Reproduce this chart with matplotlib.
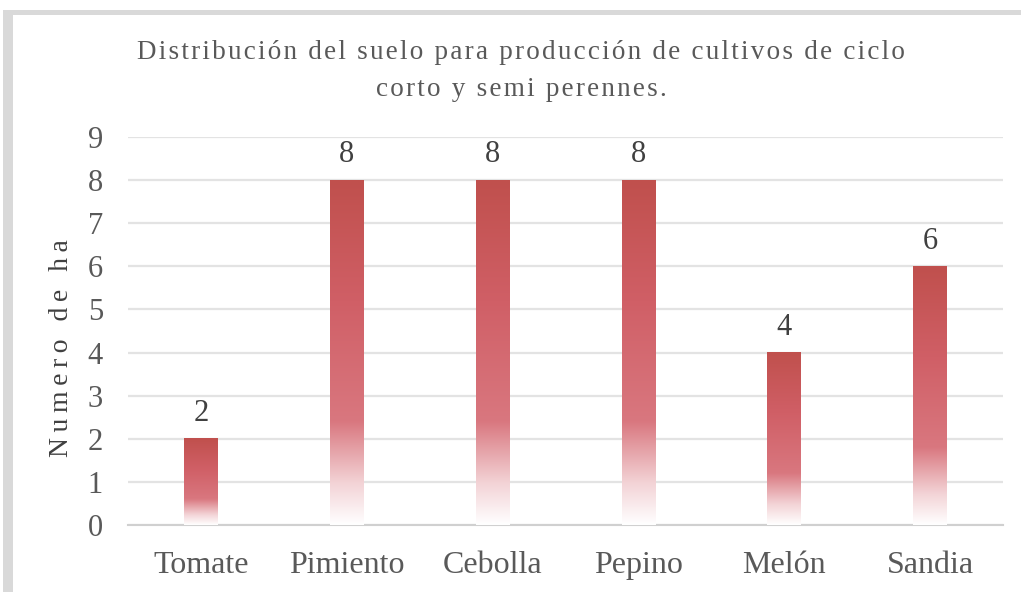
import numpy as np
import matplotlib.pyplot as plt
from matplotlib.colors import LinearSegmentedColormap
from matplotlib.patches import Rectangle

# --- Datos ---
cultivos = ["Tomate", "Pimiento", "Cebolla", "Pepino", "Melón", "Sandia"]
hectareas = [2, 8, 8, 8, 4, 6]

titulo = "Distribución del suelo para producción de cultivos de ciclo\ncorto y semi perennes."
ylabel = "Numero de ha"

plt.rcParams["font.family"] = ["Liberation Serif", "DejaVu Serif"]
gris_texto = "#595959"


def espaciar(s, sep):
    # espaciado entre letras (el original usa tracking amplio)
    return "\n".join(sep.join(linea) for linea in s.split("\n"))


W, H = 1021, 592
fig = plt.figure(figsize=(W / 100, H / 100), dpi=100)

# --- Marco gris ---
fig.patches.append(Rectangle((3 / W, 1 - 15 / H), 1, 5 / H, transform=fig.transFigure,
                             facecolor="#d9d9d9", edgecolor="none", zorder=0))
fig.patches.append(Rectangle((3 / W, 0), 10 / W, 1 - 10 / H, transform=fig.transFigure,
                             facecolor="#d9d9d9", edgecolor="none", zorder=0))

ax = fig.add_axes([128 / W, 1 - 525 / H, (1003 - 128) / W, (525 - 137) / H])

# --- Degradado de barras ---
cmap = LinearSegmentedColormap.from_list(
    "rojo", [(0.0, "#ffffff"), (0.12, "#f3d3d6"), (0.30, "#d9777f"),
             (0.65, "#d05f66"), (1.0, "#c0504d")])
grad = np.linspace(0, 1, 256).reshape(-1, 1)

x = np.arange(len(cultivos))
ancho = 0.23
bars = ax.bar(x, hectareas, width=ancho, color="none", edgecolor="none", zorder=3)
for bar, v in zip(bars, hectareas):
    x0 = bar.get_x()
    ax.imshow(grad, cmap=cmap, origin="lower", aspect="auto", zorder=3,
              extent=(x0, x0 + bar.get_width(), 0, v), interpolation="bicubic")
    ax.text(bar.get_x() + bar.get_width() / 2, v + 0.25, str(v), ha="center", va="bottom",
            fontsize=22, color="#404040")

ax.set_xlim(-0.5, len(cultivos) - 0.5)
ax.set_ylim(0, 9)
ax.set_yticks(range(0, 10))
ax.set_xticks(x)
ax.set_xticklabels(cultivos)

ax.grid(axis="y", color="#e3e3e3", linewidth=1.6, zorder=0)
ax.set_axisbelow(True)
for s in ["top", "right", "left"]:
    ax.spines[s].set_visible(False)
ax.spines["bottom"].set_color("#d0d0d0")
ax.spines["bottom"].set_linewidth(1.5)
ax.tick_params(axis="both", length=0, labelsize=22, colors=gris_texto)
ax.tick_params(axis="x", labelsize=23, pad=19)
ax.tick_params(axis="y", pad=18)

ax.set_ylabel(espaciar(ylabel, "\u2009"), fontsize=20, color="#404040")
ax.yaxis.set_label_coords(-0.062, 0.456)

fig.text(521 / W, 1 - 71 / H, espaciar(titulo, "\u200a"), ha="center", va="center",
         fontsize=19.5, color=gris_texto, linespacing=1.6)

plt.savefig("out.png", dpi=100)
plt.close()
